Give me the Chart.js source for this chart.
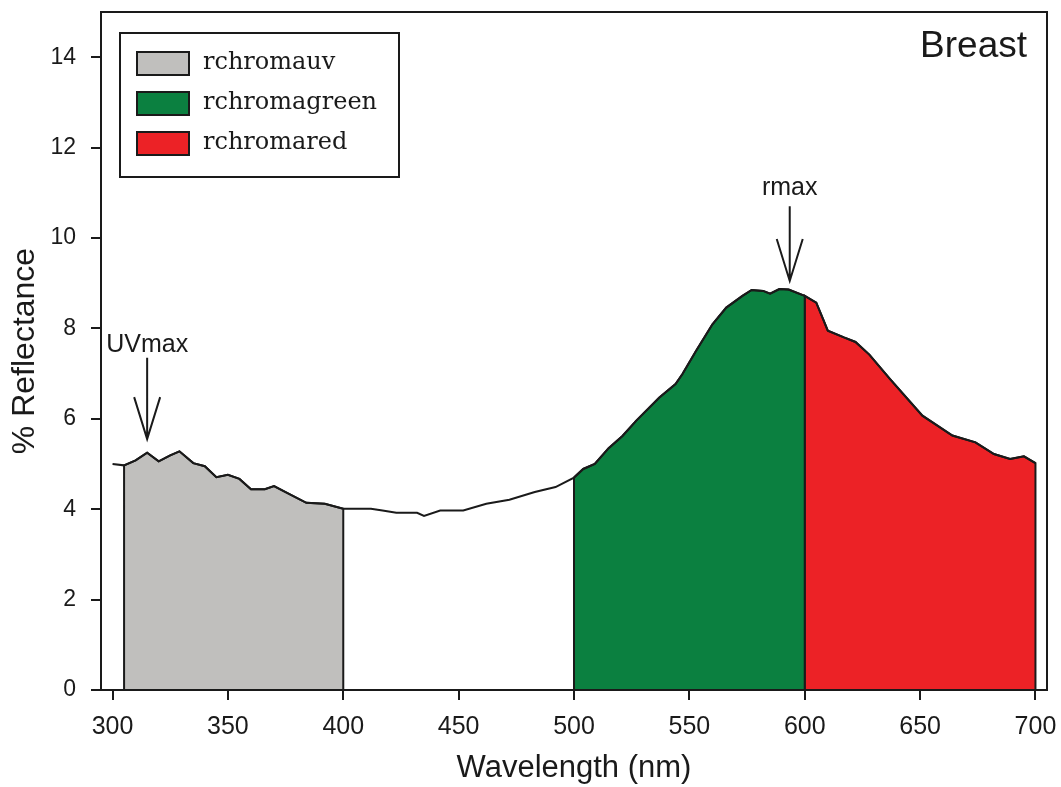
<!DOCTYPE html>
<html>
<head>
<meta charset="utf-8">
<script src="https://cdn.jsdelivr.net/npm/chart.js"></script>
<style>
  body { margin: 0; background: #fff; }
  canvas { display: block; }
</style>
</head>
<body>
<canvas id="myChart" width="1061" height="787"></canvas>
<script>
// spectrum (nm, % reflectance)
const wavelengths = [300, 305, 310, 315, 320, 325, 329, 335, 340, 345, 350, 355, 360, 366, 370, 375, 384, 392, 400,
  412, 417, 423, 432, 435, 442, 452, 462, 472, 483, 492, 500,
  504, 509, 515, 521, 527, 537, 544, 547, 553, 560, 566, 573, 577, 582, 585, 589, 593, 600,
  605, 608, 610, 617, 622, 628, 637, 651, 664, 674, 682, 689, 695, 700];
const reflectance = [5.00, 4.97, 5.08, 5.25, 5.06, 5.19, 5.28, 5.02, 4.95, 4.71, 4.76, 4.67, 4.44, 4.44, 4.51, 4.38, 4.14, 4.12, 4.01,
  4.01, 3.97, 3.92, 3.92, 3.85, 3.97, 3.97, 4.12, 4.21, 4.38, 4.49, 4.70,
  4.89, 5.00, 5.35, 5.62, 5.96, 6.47, 6.77, 6.99, 7.51, 8.09, 8.46, 8.72, 8.85, 8.83, 8.77, 8.87, 8.86, 8.72,
  8.57, 8.20, 7.95, 7.80, 7.70, 7.42, 6.88, 6.07, 5.63, 5.48, 5.22, 5.11, 5.17, 5.02];

// shaded bands
const bandNames = ['rchromauv', 'rchromagreen', 'rchromared'];
const bandStart = [305, 500, 600];
const bandEnd = [400, 600, 700];
const bandColors = ['#c0bfbd', '#0b8040', '#ec2226'];

// arrow markers
const markerLabels = ['UVmax', 'rmax'];
const markerX = [315, 593.5];
const markerLabelY = [7.48, 10.95];
const markerTop = [7.35, 10.7];
const markerTip = [5.55, 9.05];

const panelLabel = 'Breast';

const xTickStep = 50;
const yTickStep = 2;

const FONT = "'Liberation Sans', Arial, sans-serif";
const INK = '#1a1a1a';

const curve = wavelengths.map((w, i) => ({x: w, y: reflectance[i]}));

function bandData(k) {
  const pts = curve.filter(p => p.x >= bandStart[k] && p.x <= bandEnd[k]);
  return [{x: bandStart[k], y: 0}, ...pts, {x: bandEnd[k], y: 0}];
}

const datasets = [{
  label: 'spectrum',
  data: curve,
  borderColor: INK,
  borderWidth: 2,
  pointRadius: 0,
  fill: false,
  tension: 0
}];
bandNames.forEach((name, k) => {
  datasets.push({
    label: name,
    data: bandData(k),
    borderColor: INK,
    borderWidth: 2,
    backgroundColor: bandColors[k],
    pointRadius: 0,
    fill: 'origin',
    tension: 0
  });
});

// box round the plot area
const framePlugin = {
  id: 'frame',
  afterDraw(chart) {
    const {ctx, chartArea: a} = chart;
    ctx.save();
    ctx.strokeStyle = INK;
    ctx.lineWidth = 2;
    ctx.strokeRect(a.left, a.top, a.right - a.left, a.bottom - a.top);
    ctx.restore();
  }
};

// legend box in the top left corner
const legendPlugin = {
  id: 'legendBox',
  afterDraw(chart) {
    const ctx = chart.ctx;
    ctx.save();
    ctx.fillStyle = '#fff';
    ctx.fillRect(120, 33, 279, 144);
    ctx.strokeStyle = INK;
    ctx.lineWidth = 2;
    ctx.strokeRect(120, 33, 279, 144);
    ctx.font = "24px 'DejaVu Serif', serif";
    ctx.textBaseline = 'middle';
    bandNames.forEach((name, k) => {
      const y = 52 + k * 40;
      ctx.fillStyle = bandColors[k];
      ctx.fillRect(137, y, 52, 23);
      ctx.strokeRect(137, y, 52, 23);
      ctx.fillStyle = INK;
      ctx.fillText(name, 203, y + 11);
    });
    ctx.restore();
  }
};

// UVmax / rmax arrows and the panel label
const markerPlugin = {
  id: 'markers',
  afterDatasetsDraw(chart) {
    const {ctx, scales: {x, y}} = chart;
    ctx.save();
    ctx.strokeStyle = INK;
    ctx.fillStyle = INK;
    ctx.lineWidth = 2;
    ctx.font = '25px ' + FONT;
    ctx.textAlign = 'center';
    ctx.textBaseline = 'alphabetic';
    markerLabels.forEach((lab, i) => {
      const px = x.getPixelForValue(markerX[i]);
      const top = y.getPixelForValue(markerTop[i]);
      const tip = y.getPixelForValue(markerTip[i]);
      ctx.fillText(lab, px, y.getPixelForValue(markerLabelY[i]));
      ctx.beginPath();
      ctx.moveTo(px, top);
      ctx.lineTo(px, tip);
      ctx.moveTo(px - 13, tip - 42);
      ctx.lineTo(px, tip);
      ctx.lineTo(px + 13, tip - 42);
      ctx.stroke();
    });
    ctx.font = '37px ' + FONT;
    ctx.textAlign = 'right';
    ctx.fillText(panelLabel, chart.chartArea.right - 20, chart.chartArea.top + 45);
    ctx.restore();
  }
};

// keep tick label overhang from shrinking the plot area
function noScalePadding(s) {
  s.paddingTop = 0;
  s.paddingBottom = 0;
  s.paddingLeft = 0;
  s.paddingRight = 0;
}

const ctx = document.getElementById('myChart');
const cht = new Chart(ctx, {
  type: 'line',
  data: {datasets: datasets},
  plugins: [framePlugin, legendPlugin, markerPlugin],
  options: {
    responsive: false,
    animation: false,
    devicePixelRatio: 1,
    layout: {padding: {top: 12, right: 14, left: 0, bottom: 0}},
    plugins: {legend: {display: false}, tooltip: {enabled: false}},
    scales: {
      x: {
        type: 'linear',
        min: 295,
        max: 705,
        ticks: {stepSize: xTickStep, includeBounds: false, color: INK, font: {family: FONT, size: 25}, padding: 12, maxRotation: 0},
        grid: {drawOnChartArea: false, tickLength: 10, color: INK, lineWidth: 2},
        border: {color: INK, width: 2},
        title: {display: true, text: 'Wavelength (nm)', color: INK, font: {family: FONT, size: 31}, padding: {top: 0, bottom: 0}},
        afterFit: s => { s.height = 97; noScalePadding(s); }
      },
      y: {
        min: 0,
        max: 15,
        ticks: {stepSize: yTickStep, includeBounds: false, color: INK, font: {family: FONT, size: 23}, padding: 15},
        grid: {drawOnChartArea: false, tickLength: 10, color: INK, lineWidth: 2},
        border: {color: INK, width: 2},
        title: {display: true, text: '% Reflectance', color: INK, font: {family: FONT, size: 32}, padding: {top: 6, bottom: 0}},
        afterFit: s => { s.width = 101; noScalePadding(s); }
      }
    }
  }
});
</script>
</body>
</html>
